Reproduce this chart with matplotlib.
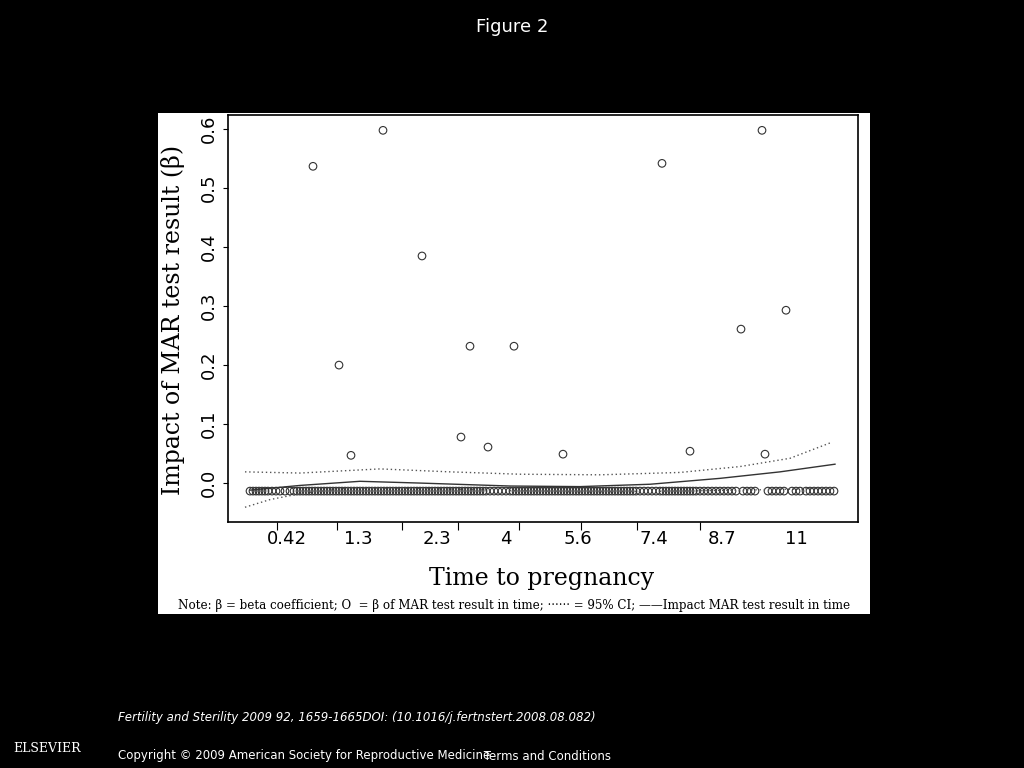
import matplotlib
matplotlib.use("Agg")
import matplotlib.pyplot as plt
from matplotlib.patches import Rectangle

# data (x in plot-position units, y = beta)
out_x = [313, 339, 351, 383, 422, 461, 470, 488, 514, 563, 662, 690, 741, 762, 765, 786]
out_y = [0.537, 0.200, 0.047, 0.598, 0.385, 0.078, 0.232, 0.061, 0.232, 0.049, 0.542, 0.054, 0.261, 0.598, 0.049, 0.293]
base_x = [250, 253, 256, 259, 262, 265, 268, 272, 276, 280, 285, 290, 294, 297, 300, 303, 306, 309,
          312, 315, 318, 321, 324, 327, 330, 333, 336, 339, 342, 345, 348, 351, 354, 357, 360, 363,
          366, 369, 372, 375, 378, 381, 384, 387, 390, 393, 396, 399, 402, 405, 408, 411, 414, 417,
          420, 423, 426, 429, 432, 435, 438, 441, 444, 447, 450, 453, 456, 459, 462, 465, 468, 471,
          474, 477, 480, 483, 486, 490, 494, 498, 502, 506, 510, 513, 516, 519, 522, 525, 528, 531,
          534, 537, 540, 543, 546, 549, 552, 555, 558, 561, 564, 567, 570, 573, 576, 579, 582, 585,
          588, 591, 594, 597, 600, 603, 606, 609, 612, 615, 618, 621, 624, 627, 630, 633, 636, 640,
          644, 648, 652, 656, 660, 663, 666, 669, 672, 675, 678, 681, 684, 687, 690, 693, 696, 700,
          704, 708, 712, 716, 720, 724, 728, 732, 736, 743, 747, 751, 755, 768, 772, 776, 780, 784,
          792, 796, 800, 806, 810, 814, 818, 822, 826, 830, 834]
base_y = -0.0136
fit_x = [250, 300, 360, 420, 510, 580, 650, 720, 780, 835]
fit_y = [-0.012, -0.004, 0.003, 0.000, -0.005, -0.006, -0.002, 0.008, 0.019, 0.032]
up_x = [245, 300, 380, 450, 520, 600, 680, 740, 790, 830]
up_y = [0.019, 0.017, 0.024, 0.019, 0.015, 0.014, 0.018, 0.028, 0.042, 0.068]
lo_x = [245, 270, 300, 350, 420, 500, 580, 660, 740, 800, 835]
lo_y = [-0.041, -0.028, -0.018, -0.008, -0.009, -0.012, -0.015, -0.014, -0.012, -0.010, -0.008]
tick_pos = [277, 337, 402, 458, 519, 581, 637, 700]
label_pos = [287, 358, 437, 506, 578, 654, 722, 796]
label_txt = ["0.42", "1.3", "2.3", "4", "5.6", "7.4", "8.7", "11"]
y_ticks = [0.0, 0.1, 0.2, 0.3, 0.4, 0.5, 0.6]

fig = plt.figure(figsize=(10.24, 7.68), dpi=100, facecolor="black")
bg = Rectangle((158/1024, 1-614/768), 712/1024, 501/768,
               transform=fig.transFigure, facecolor="white", zorder=-5)
fig.add_artist(bg)
ax = fig.add_axes([228/1024, 1-522/768, 630/1024, 407/768])
ax.set_zorder(2)
ax.set_facecolor("white")
ax.scatter(base_x, [base_y]*len(base_x), s=30, facecolors="none", edgecolors="#333333", linewidths=0.8)
ax.scatter(out_x, out_y, s=30, facecolors="none", edgecolors="#333333", linewidths=0.8)
ax.plot(fit_x, fit_y, color="#333333", lw=1)
ax.plot(up_x, up_y, color="#555555", lw=1, ls=(0, (1, 2)))
ax.plot(lo_x, lo_y, color="#555555", lw=1, ls=(0, (1, 2)))
ax.set_xlim(228, 858)
ax.set_ylim(-0.066, 0.624)
ax.set_xticks(tick_pos)
ax.set_xticklabels([])
ax.tick_params(axis="x", length=6)
ax.set_yticks(y_ticks)
ax.set_yticklabels([f"{v:.1f}" for v in y_ticks], rotation=90, va="center", fontsize=13)
for sp in ax.spines.values():
    sp.set_linewidth(1.2)
for p, t in zip(label_pos, label_txt):
    ax.text(p, -0.095, t, ha="center", va="center", fontsize=13, clip_on=False)
fig.text(173/1024, 1-320/768, "Impact of MAR test result (β)", rotation=90, ha="center", va="center",
         fontsize=17, family="DejaVu Serif")
fig.text(542/1024, 1-579/768, "Time to pregnancy", ha="center", va="center", fontsize=17, family="DejaVu Serif")
fig.text(178/1024, 1-605/768, "Note: β = beta coefficient; O  = β of MAR test result in time; ······ = 95% CI; ——Impact MAR test result in time",
         ha="left", va="center", fontsize=8.6, family="DejaVu Serif")
fig.text(0.5, 1-27/768, "Figure 2", color="white", ha="center", va="center", fontsize=13)
fig.text(118/1024, 1-717/768, "Fertility and Sterility 2009 92, 1659-1665DOI: (10.1016/j.fertnstert.2008.08.082)",
         color="white", fontsize=8.5, style="italic", va="center")
fig.text(118/1024, 1-756/768, "Copyright © 2009 American Society for Reproductive Medicine", color="white",
         fontsize=8.5, va="center")
fig.text(480/1024, 1-756/768, " Terms and Conditions", color="white", fontsize=8.5, va="center")
fig.text(47/1024, 1-749/768, "ELSEVIER", color="white", fontsize=9, ha="center", va="center", family="DejaVu Serif")
fig.savefig("out.png", dpi=100, facecolor="black")
